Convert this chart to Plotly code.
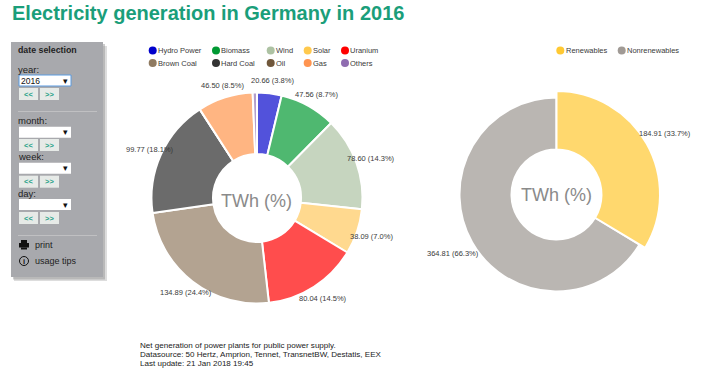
import math
import plotly.graph_objects as go

W, H = 720, 368

# ---------- data ----------
sources = ["Hydro Power", "Biomass", "Wind", "Solar", "Uranium",
           "Brown Coal", "Hard Coal", "Oil", "Gas", "Others"]
source_twh = [20.66, 47.56, 78.60, 38.09, 80.04, 134.89, 99.77, 0.0, 46.50, 3.61]
source_pct = [3.8, 8.7, 14.3, 7.0, 14.5, 24.4, 18.1, 0.0, 8.5, 0.7]
source_fill = ["#5252DB", "#4FB870", "#C6D5BF", "#FFD98F", "#FF4D4D",
               "#B3A391", "#6B6B6B", "#A08C75", "#FFB582", "#B39FCC"]
source_legend = ["#0000CC", "#009933", "#ADC2A3", "#FFC94D", "#FF0000",
                 "#8F7A60", "#333333", "#70573B", "#FF9450", "#8F6CB0"]
groups = ["Renewables", "Nonrenewables"]
group_twh = [184.91, 364.81]
group_pct = [33.7, 66.3]
group_fill = ["#FFD86E", "#BAB6B2"]
group_legend = ["#FFC933", "#A09A95"]

title = "Electricity generation in Germany in 2016"
footer = ["Net generation of power plants for public power supply.",
          "Datasource: 50 Hertz, Amprion, Tennet, TransnetBW, Destatis, EEX",
          "Last update: 21 Jan 2018 19:45"]

FONT = "Liberation Sans, Arial, sans-serif"
TXT = "#3A3A3A"
annotations, shapes = [], []


def px(x):
    return x / W


def py(y):
    return 1 - y / H


def text(x, y, s, size=8, color=TXT, anchor="left", bold=False):
    annotations.append(dict(
        x=px(x), y=py(y), xref="paper", yref="paper", text=f"<b>{s}</b>" if bold else s,
        showarrow=False, xanchor=anchor, yanchor="middle",
        font=dict(size=size, color=color, family=FONT),
        borderpad=0, borderwidth=0))


def rect(x0, y0, x1, y1, fill, line=None, lw=0, opacity=1):
    shapes.append(dict(type="rect", xref="paper", yref="paper",
                       x0=px(x0), x1=px(x1), y0=py(y0), y1=py(y1),
                       fillcolor=fill, opacity=opacity,
                       line=dict(color=line or fill, width=lw)))


def dot(x, y, r, fill, line=None, lw=0):
    shapes.append(dict(type="circle", xref="paper", yref="paper",
                       x0=px(x - r), x1=px(x + r), y0=py(y + r), y1=py(y - r),
                       fillcolor=fill, line=dict(color=line or fill, width=lw)))


def domain(cx, cy, r):
    return dict(x=[px(cx - r), px(cx + r)], y=[py(cy + r), py(cy - r)])


fig = go.Figure()

# ---------- left donut ----------
LC = (257.0, 198.0)
LR, LH = 105.5, 44.0
fig.add_trace(go.Pie(labels=sources, values=source_twh, sort=False, direction="clockwise",
                     rotation=0, hole=LH / LR, domain=domain(*LC, LR), textinfo="none",
                     marker=dict(colors=source_fill, line=dict(color="white", width=2)),
                     showlegend=False, hoverinfo="label+value+percent"))

# ---------- right donut: the highlighted slice has a larger radius ----------
RC = (556.5, 194.5)
RR_small, RR_big, RH = 97.0, 103.5, 45.0
fig.add_trace(go.Pie(labels=groups, values=group_twh, sort=False, direction="clockwise",
                     rotation=0, hole=RH / RR_small, domain=domain(*RC, RR_small), textinfo="none",
                     marker=dict(colors=["rgba(0,0,0,0)", group_fill[1]],
                                 line=dict(color="white", width=2)),
                     showlegend=False))
fig.add_trace(go.Pie(labels=groups, values=group_twh, sort=False, direction="clockwise",
                     rotation=0, hole=RH / RR_big, domain=domain(*RC, RR_big), textinfo="none",
                     marker=dict(colors=[group_fill[0], "rgba(0,0,0,0)"],
                                 line=dict(color=["white", "rgba(0,0,0,0)"], width=2)),
                     showlegend=False))


def slice_labels(center, radii, twh, pct, skip=0.5):
    total = sum(twh)
    run = 0.0
    for v, p, radius in zip(twh, pct, radii):
        a = 2 * math.pi * (run + v / 2) / total
        run += v
        if p < skip + 0.5:
            continue
        text(center[0] + radius * math.sin(a), center[1] - radius * math.cos(a) + 0.5,
             f"{v:.2f} ({p:.1f}%)", size=7.5, anchor="center")


slice_labels((258.5, 198.0), [119] * len(source_twh), source_twh, source_pct)
slice_labels(RC, [125, 119], group_twh, group_pct)
text(256, 201, "TWh (%)", size=18, color="#8A8A8A", anchor="center")
text(556.5, 195, "TWh (%)", size=18, color="#8A8A8A", anchor="center")

# ---------- legends ----------
col_x = [152.7, 216, 270.7, 307.7, 345]
row_y = [50.5, 63]
for i, (n, c) in enumerate(zip(sources, source_legend)):
    x, y = col_x[i % 5], row_y[i // 5]
    dot(x, y, 4, c)
    text(x + 5.3, y, n, size=7.5)
for x, n, c in zip([560.3, 621.7], groups, group_legend):
    dot(x, 50.5, 4, c)
    text(x + 5.3, 50.5, n, size=7.5)

# ---------- title and footer ----------
text(12, 13, title, size=20, color="#1A9E7A", bold=True)
for y, s in zip([345.5, 354.5, 363.4], footer):
    text(140, y, s, size=8.05, color="#222222")

# ---------- side panel ----------
rect(14, 46, 107, 281, "#8E8E8E", opacity=0.3)
rect(13, 44, 105, 279.5, "#8E8E8E", opacity=0.45)
rect(11, 42, 103, 277, "#A8A9AD")
text(18, 49.5, "date selection", size=8.8, color="#222222", bold=True)
for y in [111, 235]:
    rect(18, y, 97, y + 0.8, "#C8C8CA")


def selector(label, label_y, box_y, btn_y, value=""):
    text(18, label_y, label, size=9.5, color="#222222")
    rect(19, box_y, 71, box_y + 11, "white",
         line="#5B9BE0" if value else None, lw=1 if value else 0)
    if value:
        text(21, box_y + 5.5, value, size=8.5, color="#111111")
    text(65, box_y + 5.5, "\u25BE", size=9, color="#111111", anchor="center")
    for x0, sym in [(19, "&lt;&lt;"), (40, "&gt;&gt;")]:
        rect(x0, btn_y, x0 + 19, btn_y + 12, "#E6EAE7")
        text(x0 + 9.5, btn_y + 6, sym, size=7.5, color="#22A085", anchor="center", bold=True)


selector("year:", 69, 75, 88, "2016")
selector("month:", 120.7, 126.7, 139)
selector("week:", 157, 162.7, 175.7)
selector("day:", 193, 199, 212)

# print icon
rect(21, 240, 27, 243, "#111111")
rect(19, 243, 29, 247.5, "#111111")
rect(21, 247.5, 27, 249.5, "#111111")
text(34.5, 245, "print", size=9, color="#222222")
# info icon
dot(24, 261, 4.5, "rgba(0,0,0,0)", line="#111111", lw=1)
text(24, 261, "i", size=7.5, color="#111111", anchor="center", bold=True)
text(34.5, 261, "usage tips", size=9, color="#222222")

fig.update_layout(width=W, height=H, autosize=False,
                  margin=dict(l=0, r=0, t=0, b=0),
                  paper_bgcolor="white", plot_bgcolor="white",
                  showlegend=False, annotations=annotations, shapes=shapes,
                  font=dict(family=FONT))
fig.write_html("out.html", config=dict(displayModeBar=False),
               post_script="document.body.style.margin='0';document.body.style.overflow='hidden';")
